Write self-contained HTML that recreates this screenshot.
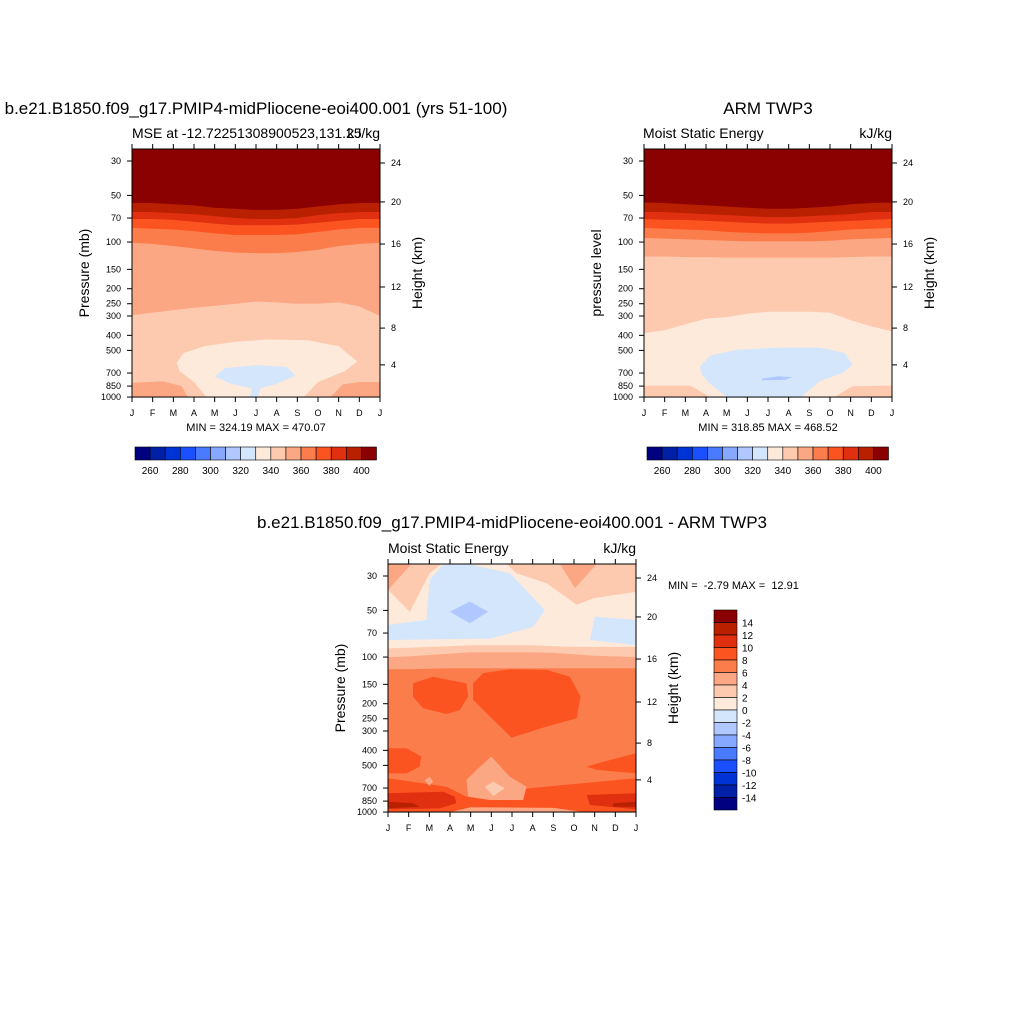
<!DOCTYPE html>
<html><head><meta charset="utf-8"><style>
html,body{margin:0;padding:0;background:#fff;}
svg{display:block;font-family:"Liberation Sans",sans-serif;}
</style></head><body>
<svg id="fig" width="1024" height="1024" viewBox="0 0 1024 1024" xmlns="http://www.w3.org/2000/svg">
<rect width="1024" height="1024" fill="#fff"/>
<text x="256" y="114" font-size="17" text-anchor="middle">b.e21.B1850.f09_g17.PMIP4-midPliocene-eoi400.001 (yrs 51-100)</text>
<text x="132" y="138" font-size="14">MSE at -12.72251308900523,131.25</text>
<text x="380" y="138" font-size="14" text-anchor="end">kJ/kg</text>
<text x="768" y="114" font-size="17" text-anchor="middle">ARM TWP3</text>
<text x="643" y="138" font-size="14">Moist Static Energy</text>
<text x="892" y="138" font-size="14" text-anchor="end">kJ/kg</text>
<text x="512" y="528" font-size="17" text-anchor="middle">b.e21.B1850.f09_g17.PMIP4-midPliocene-eoi400.001 - ARM TWP3</text>
<text x="388" y="553" font-size="14">Moist Static Energy</text>
<text x="636" y="553" font-size="14" text-anchor="end">kJ/kg</text>
<text x="256" y="431" font-size="11" text-anchor="middle">MIN = 324.19 MAX = 470.07</text>
<text x="768" y="431" font-size="11" text-anchor="middle">MIN = 318.85 MAX = 468.52</text>
<text x="668" y="589" font-size="11" style="white-space:pre">MIN =  -2.79 MAX =  12.91</text>
<text transform="translate(89,273) rotate(-90)" font-size="14" text-anchor="middle">Pressure (mb)</text>
<text transform="translate(422,273) rotate(-90)" font-size="14" text-anchor="middle">Height (km)</text>
<text transform="translate(601,273) rotate(-90)" font-size="14" text-anchor="middle">pressure level</text>
<text transform="translate(934,273) rotate(-90)" font-size="14" text-anchor="middle">Height (km)</text>
<text transform="translate(345,688) rotate(-90)" font-size="14" text-anchor="middle">Pressure (mb)</text>
<text transform="translate(678,688) rotate(-90)" font-size="14" text-anchor="middle">Height (km)</text>
</svg>
<script>
const colors=['#000080','#0020a8','#0033d6','#1a50ff','#4a7aff','#86a8ff','#b0c8ff','#d4e6fc','#fdeadb','#fdcab0','#fca783','#fb7d4c','#fc5420','#e03010','#b82000','#8b0000'];
const months=['J','F','M','A','M','J','J','A','S','O','N','D','J'];
const pressTicks=[30,50,70,100,150,200,250,300,400,500,700,850,1000];
const heightTicks=[24,20,16,12,8,4];
const heightPress=[30.9,55.1,103,195,359,620];
const absBarLabels=[260,280,300,320,340,360,380,400];
const diffBarLabels=[14,12,10,8,6,4,2,0,-2,-4,-6,-8,-10,-12,-14];
const tlBg=9;
const tlBandColors=[10,11,12,13,14,15];
const tlBands=[
[296,285,275,265,258,250,242,245,250,250,245,260,300],
[101,103,106,110,114,117,118,118,116,112,106,103,101],
[81,82,83,85,88,90,90,90,89,86,83,81,81],
[71,71,72,74,76,78,78,78,77,75,73,71,71],
[64,64,65,66,68,70,71,71,70,67,65,64,64],
[56,56,57,58,60,61,62,62,61,59,57,56,56]];
const tlBlobColors=[10,10,8,7];
const tlBlobs=[
[[0,810],[1.5,790],[2.4,850],[2.7,1000],[0,1000]],
[[9.6,1000],[10.2,830],[11,800],[12,800],[12,1000]],
[[2.16,600],[2.5,520],[3.5,470],[5,440],[6.5,425],[8.5,430],[10,470],[10.9,590],[10.3,680],[9,800],[8.3,1000],[3.6,1000],[3.0,800],[2.3,680]],
[[4,740],[4.5,650],[6,622],[7.5,640],[7.9,730],[7,820],[6.2,880],[6.1,1000],[5.7,1000],[5.8,880],[4.8,820]]];
const trBg=8;
const trBandColors=[9,10,11,12,13,14,15];
const trBands=[
[387,370,340,312,305,290,282,282,282,285,320,350,376],
[124,124,125,125,126,126,126,126,126,126,125,124,124],
[94,95,96,97,98,99,99,99,99,98,96,95,94],
[81,82,83,84,86,87,88,88,87,85,83,82,81],
[71,72,72,73,74,75,76,76,75,74,73,72,71],
[64,64,65,66,67,68,69,69,68,67,66,64,64],
[55.6,56,57,58,59,60,61,61,60,59,57,56,55.6]];
const trBlobColors=[9,9,7,6];
const trBlobs=[
[[0,843],[2.25,843],[3.2,1000],[0,1000]],
[[9.2,1000],[10.1,850],[12,843],[12,1000]],
[[2.7,640],[3.2,540],[4.5,495],[6.5,480],[8.5,480],[9.7,520],[10.1,620],[9.6,700],[8.5,790],[7.6,1000],[4.0,1000],[3.2,820],[2.8,720]],
[[5.7,760],[6.5,735],[7.2,745],[6.8,775],[5.7,780]]];
const dfBg=11;
const dfBandColors=[10,9,8];
const dfBands=[
[120,120,119,118,118,118,118,118,118,118,118,118,118],
[100,99,97,95,93,93,93,93,94,96,98,99,100],
[88,87,86,85,84,84,84,84,85,86,86,86,86]];
const dfBlobColors=[9,10,7,7,6,9,10,12,12,12,12,12,10,9,10,13,13,14,14,10];
const dfBlobs=[
[[0,25.1],[2.58,25.1],[2.02,28.8],[1.05,51],[0,36.9]],
[[0,25.1],[1.13,25.1],[0,36.9]],
[[2.67,25.1],[3.88,25.1],[5.9,28.8],[7.59,49.7],[7.03,64],[4.93,76],[0,77.6],[0,62],[1.86,57.6],[2.02,31.8]],
[[10,55],[12,57.6],[12,83.6],[9.77,77.6]],
[[2.99,51],[3.96,43.9],[4.85,51],[3.96,60.6]],
[[5.74,25.1],[12,25.1],[12,38],[9.94,41.8],[9.13,46],[7.67,33.4],[6.22,28.8]],
[[8.32,25.1],[10.1,25.1],[9.05,36]],
[[1.21,148],[2.18,134],[3.8,148],[3.88,180],[3.47,220],[2.83,233],[1.7,214],[1.21,180]],
[[4.12,148],[4.6,127],[5.9,120],[7.67,121],[8.8,134],[9.32,180],[9.13,248],[7.67,281],[5.98,331],[4.93,242],[4.12,189]],
[[0,388],[0.89,388],[1.62,439],[1.53,510],[0.89,563],[0,563]],
[[9.61,510],[10.42,473],[12,418],[12,563],[10.1,535]],
[[0,606],[2.83,686],[3.8,796],[6.87,703],[8.48,669],[12,606],[12,1000],[0,1000]],
[[3.8,621],[4.28,535],[5,439],[5.9,592],[6.7,686],[6.54,836],[4.93,836],[3.88,796]],
[[4.69,686],[5.09,636],[5.65,703],[5.09,788]],
[[1.78,621],[2.02,592],[2.18,636],[1.99,679]],
[[0,757],[2.67,739],[3.23,796],[3.31,878],[2.5,947],[0,960]],
[[9.61,776],[12,757],[12,960],[9.77,901]],
[[0,857],[1.21,878],[1.53,923],[0,947]],
[[10.9,878],[12,857],[12,923],[10.9,923]],
[[3,1000],[4,930],[8,940],[9.5,1000]]];

const NS='http://www.w3.org/2000/svg';
const svg=document.getElementById('fig');
function mk(tag,attrs,parent){const e=document.createElementNS(NS,tag);for(const k in attrs)e.setAttribute(k,attrs[k]);(parent||svg).appendChild(e);return e;}
const PTOP=25.1,PBOT=1000,W=248;
function panel(name,x0,y0,bg,bandColors,bands,blobColors,blobs){
  const H=155*Math.log10(PBOT/PTOP);
  const xs=m=>x0+m*W/12;
  const ys=p=>y0+155*Math.log10(p/PTOP);
  const g=mk('g',{});
  
  
  const r=mk('rect',{x:x0,y:y0,width:W,height:H,fill:colors[bg]},g);
  
  
  const order=[];
  bands.forEach((b,i)=>order.push({c:bandColors[i],pts:[[0,PTOP],[12,PTOP]].concat(b.map((p,m)=>[m,p]).reverse()),t:'band'}));
  const blobLayers=blobs.map((b,i)=>({c:blobColors[i],pts:b,t:'blob'}));
  const layers= name==='diff' ? order.concat(blobLayers) : blobLayers.concat(order);
  layers.forEach((L,i)=>{
    const clipPts=L.pts.map(q=>[Math.max(0,Math.min(12,q[0])),Math.max(PTOP,Math.min(PBOT,q[1]))]);
    const pth=mk('path',{d:clipPts.map((q,j)=>(j?'L':'M')+xs(q[0]).toFixed(1)+','+ys(q[1]).toFixed(1)).join(' ')+'Z',fill:colors[L.c],'stroke-linejoin':'round'},g);
    
    
  });
  const frame=mk('rect',{x:x0,y:y0,width:W,height:H,fill:'none',stroke:'#000','stroke-width':1});
  
  
  pressTicks.forEach(p=>{
    const y=ys(p);
    const tk=mk('line',{x1:x0-5,x2:x0,y1:y,y2:y,stroke:'#000'});
    
    
    const t=mk('text',{x:x0-11,y:y+3,'font-size':9,'text-anchor':'end'});
    t.textContent=p;
    
    
  });
  heightTicks.forEach((h,i)=>{
    const y=ys(heightPress[i]);
    const tk=mk('line',{x1:x0+W,x2:x0+W+5,y1:y,y2:y,stroke:'#000'});
    
    
    const t=mk('text',{x:x0+W+11,y:y+3,'font-size':9});
    t.textContent=h;
    
    
  });
  months.forEach((m,i)=>{
    const x=xs(i);
    const tb=mk('line',{x1:x,x2:x,y1:y0+H,y2:y0+H+5,stroke:'#000'});
    
    
    const tt=mk('line',{x1:x,x2:x,y1:y0-5,y2:y0,stroke:'#000'});
    
    
    const t=mk('text',{x:x,y:y0+H+19,'font-size':9,'text-anchor':'middle'});
    t.textContent=m;
    
    
  });
}
panel('left',132,149,tlBg,tlBandColors,tlBands,tlBlobColors,tlBlobs);
panel('right',644,149,trBg,trBandColors,trBands,trBlobColors,trBlobs);
panel('diff',388,564,dfBg,dfBandColors,dfBands,dfBlobColors,dfBlobs);

function hbar(name,x0,y0){
  const bw=241.5/16;
  colors.forEach((c,i)=>{
    const r=mk('rect',{x:x0+i*bw,y:y0,width:bw,height:13,fill:c,stroke:'#000','stroke-width':0.6});
    
    
  });
  absBarLabels.forEach((v,i)=>{
    const t=mk('text',{x:x0+(1+2*i)*bw,y:y0+27,'font-size':10,'text-anchor':'middle'});
    t.textContent=v;
    
    
  });
}
hbar('left',135,447);
hbar('right',647,447);
(function(){
  const x0=714,y0=610,bh=200/16;
  colors.slice().reverse().forEach((c,i)=>{
    const r=mk('rect',{x:x0,y:y0+i*bh,width:23,height:bh,fill:c,stroke:'#000','stroke-width':0.6});
    
    
  });
  diffBarLabels.forEach((v,i)=>{
    const t=mk('text',{x:742,y:y0+(i+1)*bh+4,'font-size':10});
    t.textContent=v;
    
    
  });
})();
</script>
</body></html>
